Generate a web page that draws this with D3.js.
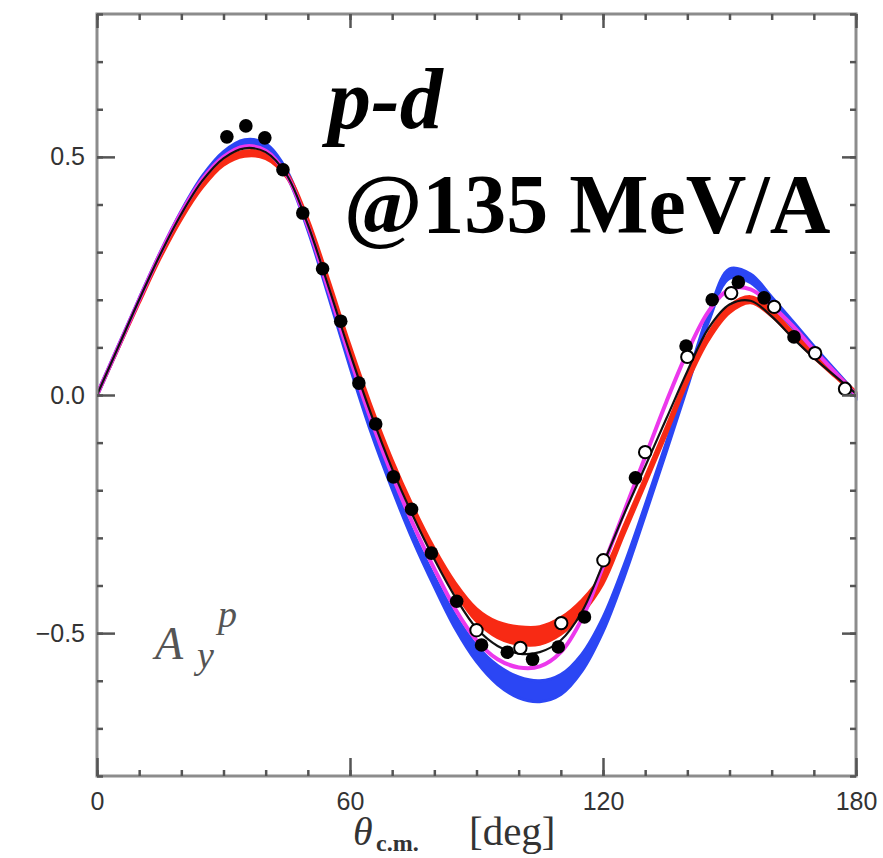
<!DOCTYPE html>
<html>
<head>
<meta charset="utf-8">
<script src="https://cdn.jsdelivr.net/npm/d3@7"></script>
<style>
  html, body { margin: 0; padding: 0; background: #fff; }
  svg { display: block; }
</style>
</head>
<body>
<svg id="chart" width="883" height="858"></svg>
<script>
// ---------------- DATA ----------------
const angles = [0,5,10,15,20,25,30,35,40,45,50,55,60,65,70,75,80,85,90,95,100,105,110,115,120,125,130,135,140,145,150,155,160,165,170,175,180];

const blackCurve = [0,0.10,0.20,0.295,0.38,0.45,0.497,0.518,0.51,0.462,0.358,0.225,0.088,-0.04,-0.155,-0.255,-0.345,-0.425,-0.49,-0.527,-0.543,-0.54,-0.515,-0.455,-0.355,-0.25,-0.15,-0.05,0.05,0.14,0.19,0.198,0.165,0.12,0.078,0.04,0.003];

const magentaCurve = [0,0.10,0.20,0.297,0.383,0.453,0.50,0.522,0.513,0.462,0.355,0.218,0.078,-0.052,-0.168,-0.272,-0.365,-0.45,-0.515,-0.555,-0.572,-0.57,-0.54,-0.47,-0.36,-0.245,-0.13,-0.015,0.09,0.175,0.222,0.222,0.188,0.145,0.095,0.048,0.0];

const redCenter = [0,0.098,0.196,0.29,0.373,0.44,0.488,0.507,0.502,0.462,0.365,0.236,0.100,-0.028,-0.142,-0.242,-0.33,-0.405,-0.462,-0.493,-0.505,-0.505,-0.485,-0.445,-0.385,-0.283,-0.18,-0.075,0.033,0.122,0.18,0.2,0.172,0.127,0.083,0.043,0.003];
const redHalf = [0.003,0.003,0.004,0.004,0.005,0.005,0.006,0.006,0.006,0.006,0.006,0.006,0.006,0.007,0.007,0.008,0.009,0.011,0.014,0.017,0.019,0.019,0.018,0.015,0.012,0.010,0.009,0.009,0.008,0.008,0.008,0.007,0.007,0.006,0.005,0.005,0.004];

const blueCenter = [0,0.10,0.20,0.297,0.384,0.456,0.506,0.530,0.522,0.466,0.352,0.21,0.065,-0.072,-0.19,-0.298,-0.392,-0.477,-0.543,-0.588,-0.614,-0.622,-0.608,-0.562,-0.482,-0.37,-0.242,-0.11,0.025,0.162,0.255,0.245,0.198,0.148,0.097,0.048,0.0];
const blueHalf = [0.003,0.003,0.003,0.003,0.003,0.004,0.005,0.006,0.006,0.006,0.006,0.006,0.007,0.007,0.008,0.009,0.011,0.014,0.017,0.020,0.022,0.022,0.021,0.018,0.015,0.013,0.011,0.010,0.009,0.009,0.010,0.009,0.008,0.007,0.006,0.005,0.004];

const filledAngles = [30.8,35.3,39.8,44.1,48.8,53.5,57.8,62.1,66.1,70.3,74.6,79.3,85.3,91.2,97.3,103.3,109.4,115.6,127.7,139.7,145.9,152.1,158.2,165.3];
const filledValues = [0.542,0.565,0.540,0.473,0.382,0.265,0.155,0.025,-0.061,-0.172,-0.240,-0.332,-0.433,-0.525,-0.540,-0.555,-0.529,-0.466,-0.174,0.103,0.200,0.237,0.204,0.122];

const openAngles = [90.0,100.4,110.1,120.1,130.0,140.0,150.4,160.6,170.3,177.4];
const openValues = [-0.494,-0.531,-0.479,-0.347,-0.120,0.080,0.214,0.185,0.088,0.013];

const xMajorTicks = [0,60,120,180];
const xMinorTicks = d3.range(0,181,10);
const yMajorTicks = [-0.5,0,0.5];
const yMinorTicks = d3.range(-8,9,1).map(d => d/10);

// ---------------- CHART ----------------
const svg = d3.select('#chart');
const L = 97, R = 856, T = 14, B = 776;
const x = d3.scaleLinear().domain([0,180]).range([L,R]);
const y = d3.scaleLinear().domain([-0.8,0.8]).range([B,T]);

svg.append('defs').append('clipPath').attr('id','plotclip')
  .append('rect').attr('x',L).attr('y',T).attr('width',R-L+4).attr('height',B-T);

const plot = svg.append('g').attr('clip-path','url(#plotclip)');

const band = (c,h) => d3.area()
  .x((d,i)=>x(angles[i]))
  .y0((d,i)=>y(c[i]-h[i]))
  .y1((d,i)=>y(c[i]+h[i]))
  .curve(d3.curveCatmullRom.alpha(0.5));
const line = c => d3.line()
  .x((d,i)=>x(angles[i]))
  .y((d,i)=>y(c[i]))
  .curve(d3.curveCatmullRom.alpha(0.5));

plot.append('path').datum(angles).attr('d', band(blueCenter,blueHalf))
  .attr('fill','#2b46f4').attr('stroke','#2b46f4').attr('stroke-width',3);
plot.append('path').datum(angles).attr('d', band(redCenter,redHalf))
  .attr('fill','#f82a14').attr('stroke','#f82a14').attr('stroke-width',2.5);
plot.append('path').datum(angles).attr('d', line(magentaCurve))
  .attr('fill','none').attr('stroke','#ec38ec').attr('stroke-width',4);
plot.append('path').datum(angles).attr('d', line(blackCurve))
  .attr('fill','none').attr('stroke','#111').attr('stroke-width',2.2);

plot.selectAll('circle.filled').data(filledAngles).join('circle')
  .attr('class','filled')
  .attr('cx',(d)=>x(d)).attr('cy',(d,i)=>y(filledValues[i]))
  .attr('r',6.8).attr('fill','#000');
plot.selectAll('circle.open').data(openAngles).join('circle')
  .attr('class','open')
  .attr('cx',(d)=>x(d)).attr('cy',(d,i)=>y(openValues[i]))
  .attr('r',6.2).attr('fill','#fff').attr('stroke','#000').attr('stroke-width',2);

// frame
svg.append('rect').attr('x',L).attr('y',T).attr('width',R-L).attr('height',B-T)
  .attr('fill','none').attr('stroke','#8c8c8c').attr('stroke-width',3);

function styleAxis(g){
  g.select('.domain').remove();
  g.selectAll('.tick line').attr('stroke','#555').attr('stroke-width',2.5);
  g.selectAll('.tick text').attr('fill','#333')
    .style('font-family','"Liberation Sans", Arial, sans-serif').style('font-size','25px');
}

// bottom
svg.append('g').attr('transform',`translate(0,${B})`)
  .call(d3.axisBottom(x).tickValues(xMinorTicks).tickSize(-6).tickFormat('')).call(styleAxis);
svg.append('g').attr('transform',`translate(0,${B})`)
  .call(d3.axisBottom(x).tickValues(xMajorTicks).tickSize(-18).tickPadding(16).tickFormat(d3.format('d'))).call(styleAxis);
// top
svg.append('g').attr('transform',`translate(0,${T})`)
  .call(d3.axisTop(x).tickValues(xMinorTicks).tickSize(-6).tickFormat('')).call(styleAxis);
svg.append('g').attr('transform',`translate(0,${T})`)
  .call(d3.axisTop(x).tickValues(xMajorTicks).tickSize(-14).tickFormat('')).call(styleAxis);
// left
svg.append('g').attr('transform',`translate(${L},0)`)
  .call(d3.axisLeft(y).tickValues(yMinorTicks).tickSize(-6).tickFormat('')).call(styleAxis);
svg.append('g').attr('transform',`translate(${L},0)`)
  .call(d3.axisLeft(y).tickValues(yMajorTicks).tickSize(-18).tickPadding(12).tickFormat(d3.format('.1f'))).call(styleAxis);
// right
svg.append('g').attr('transform',`translate(${R},0)`)
  .call(d3.axisRight(y).tickValues(yMinorTicks).tickSize(-6).tickFormat('')).call(styleAxis);
svg.append('g').attr('transform',`translate(${R},0)`)
  .call(d3.axisRight(y).tickValues(yMajorTicks).tickSize(-14).tickFormat('')).call(styleAxis);

// x axis title
const serif = '"Liberation Serif", "DejaVu Serif", serif';
svg.append('text').attr('x',353).attr('y',845).style('font-family',serif)
  .style('font-style','italic').style('font-size','40px').attr('fill','#333').text('θ');
svg.append('text').attr('x',376).attr('y',851).style('font-family',serif)
  .style('font-weight','bold').style('font-size','24px').attr('fill','#333').text('c.m.');
svg.append('text').attr('x',469).attr('y',845).style('font-family',serif)
  .style('font-size','41px').attr('fill','#333').text('[deg]');

// A_y^p label
svg.append('text').attr('x',155).attr('y',659).style('font-family',serif)
  .style('font-style','italic').style('font-size','46px').attr('fill','#555').text('A');
svg.append('text').attr('x',197).attr('y',668).style('font-family',serif)
  .style('font-style','italic').style('font-size','38px').attr('fill','#555').text('y');
svg.append('text').attr('x',218).attr('y',627).style('font-family',serif)
  .style('font-style','italic').style('font-size','38px').attr('fill','#555').text('p');

// annotation
svg.append('text').attr('x',328).attr('y',128)
  .style('font-family','"Liberation Serif", "Times New Roman", serif')
  .style('font-style','italic').style('font-weight','bold').style('font-size','86px')
  .attr('fill','#000').text('p-d');
svg.append('text').attr('x',344).attr('y',233)
  .style('font-family','"Liberation Serif", "Times New Roman", serif')
  .style('font-weight','bold').style('font-size','84px')
  .attr('fill','#000').text('@135 MeV/A');
</script>
</body>
</html>
